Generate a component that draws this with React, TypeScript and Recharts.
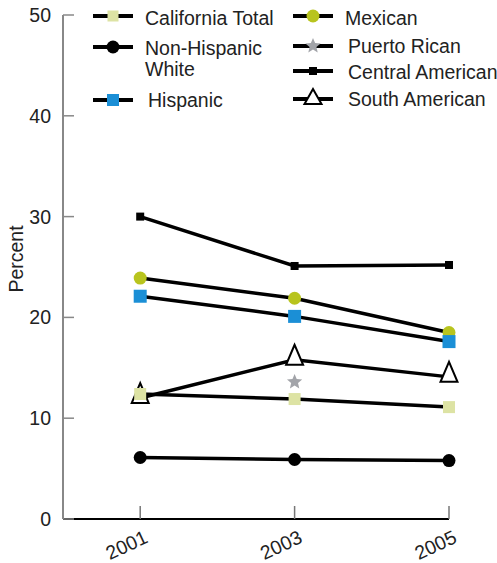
import React from "react";
import { LineChart, Line, XAxis, YAxis, Legend } from "recharts";

const years = [2001, 2003, 2005];
const californiaTotal = [12.4, 11.9, 11.1];
const nonHispanicWhite = [6.1, 5.9, 5.8];
const hispanic = [22.1, 20.1, 17.6];
const mexican = [23.9, 21.9, 18.5];
const puertoRican = [null, 13.6, null];
const centralAmerican = [30.0, 25.1, 25.2];
const southAmerican = [12.0, 15.8, 14.1];
const yTicks = [0, 10, 20, 30, 40, 50];

const FONT = '"Liberation Sans", Arial, Helvetica, sans-serif';
const TEXT = "#222";
const FS = 19.5;

const data = years.map((year, i) => ({
  year,
  californiaTotal: californiaTotal[i],
  nonHispanicWhite: nonHispanicWhite[i],
  hispanic: hispanic[i],
  mexican: mexican[i],
  puertoRican: puertoRican[i],
  centralAmerican: centralAmerican[i],
  southAmerican: southAmerican[i],
}));

type Kind = "paleSquare" | "blackCircle" | "blueSquare" | "greenCircle" | "star" | "smallSquare" | "triangle";

function starPath(cx: number, cy: number, ro: number, ri: number) {
  const pts: string[] = [];
  for (let i = 0; i < 10; i++) {
    const r = i % 2 === 0 ? ro : ri;
    const a = -Math.PI / 2 + (i * Math.PI) / 5;
    pts.push(`${(cx + r * Math.cos(a)).toFixed(2)},${(cy + r * Math.sin(a)).toFixed(2)}`);
  }
  return pts.join(" ");
}

function marker(kind: Kind, cx: number, cy: number, legend = false) {
  switch (kind) {
    case "paleSquare": {
      const s = legend ? 11 : 12;
      return <rect x={cx - s / 2} y={cy - s / 2} width={s} height={s} fill="#dde3a4" />;
    }
    case "blackCircle":
      return <circle cx={cx} cy={cy} r={6.5} fill="#000" />;
    case "blueSquare": {
      const s = legend ? 12 : 13;
      return <rect x={cx - s / 2} y={cy - s / 2} width={s} height={s} fill="#1b8fd6" />;
    }
    case "greenCircle":
      return <circle cx={cx} cy={cy} r={6.5} fill="#b8c41e" />;
    case "star":
      return <polygon points={starPath(cx, cy, 8, 3.6)} fill="#a2a4a9" />;
    case "smallSquare":
      return <rect x={cx - 4} y={cy - 4} width={8} height={8} fill="#000" />;
    case "triangle": {
      const top = legend ? 10 : 15;
      return (
        <polygon
          points={`${cx},${cy - top} ${cx - 8.5},${cy + 5} ${cx + 8.5},${cy + 5}`}
          fill="#fff"
          stroke="#000"
          strokeWidth={2}
          strokeLinejoin="miter"
        />
      );
    }
  }
}

// draw order matters: later series sit on top
const series: { key: string; kind: Kind }[] = [
  { key: "southAmerican", kind: "triangle" },
  { key: "centralAmerican", kind: "smallSquare" },
  { key: "nonHispanicWhite", kind: "blackCircle" },
  { key: "mexican", kind: "greenCircle" },
  { key: "hispanic", kind: "blueSquare" },
  { key: "puertoRican", kind: "star" },
  { key: "californiaTotal", kind: "paleSquare" },
];

const legendItems: { kind: Kind; lines: string[]; lx: number; ly: number; tx: number; ty: number }[] = [
  { kind: "paleSquare", lines: ["California Total"], lx: 113, ly: 16, tx: 145, ty: 25 },
  { kind: "blackCircle", lines: ["Non-Hispanic", "White"], lx: 113, ly: 47, tx: 145, ty: 55 },
  { kind: "blueSquare", lines: ["Hispanic"], lx: 113, ly: 100, tx: 148, ty: 107 },
  { kind: "greenCircle", lines: ["Mexican"], lx: 313, ly: 16, tx: 345, ty: 25 },
  { kind: "star", lines: ["Puerto Rican"], lx: 313, ly: 46, tx: 348, ty: 53 },
  { kind: "smallSquare", lines: ["Central American"], lx: 313, ly: 71, tx: 348, ty: 79 },
  { kind: "triangle", lines: ["South American"], lx: 313, ly: 99, tx: 348, ty: 106 },
];

function LegendContent() {
  return (
    <svg width={497} height={115} style={{ display: "block" }}>
      {legendItems.map((it) => (
        <g key={it.lines[0]}>
          <line x1={it.lx - 20} x2={it.lx + 20} y1={it.ly} y2={it.ly} stroke="#000" strokeWidth={4} />
          {marker(it.kind, it.lx, it.ly, true)}
          <text x={it.tx} y={it.ty} fontFamily={FONT} fontSize={FS} fill={TEXT}>
            {it.lines.map((l, i) => (
              <tspan key={l} x={it.tx} dy={i === 0 ? 0 : 21}>
                {l}
              </tspan>
            ))}
          </text>
        </g>
      ))}
    </svg>
  );
}

function XTick({ x, y, payload }: any) {
  return (
    <g>
      <line x1={x} x2={x} y1={y} y2={y - 13} stroke="#777" strokeWidth={1.5} />
      <text
        x={x + 9}
        y={y + 23}
        textAnchor="end"
        transform={`rotate(-25 ${x + 9} ${y + 23})`}
        fontFamily={FONT}
        fontSize={FS}
        fill={TEXT}
      >
        {payload.value}
      </text>
    </g>
  );
}

function YTick({ x, y, payload }: any) {
  return (
    <g>
      <line x1={x} x2={x + 11} y1={y} y2={y} stroke="#888" strokeWidth={1.5} />
      <text x={x - 12} y={y + 7} textAnchor="end" fontFamily={FONT} fontSize={FS} fill={TEXT}>
        {payload.value}
      </text>
    </g>
  );
}

function YLabel({ viewBox }: any) {
  const cx = 23;
  const cy = viewBox.y + viewBox.height / 2 - 8;
  return (
    <text x={cx} y={cy} textAnchor="middle" transform={`rotate(-90 ${cx} ${cy})`} fontFamily={FONT} fontSize={FS} fill={TEXT}>
      Percent
    </text>
  );
}

export default function App() {
  return (
    <div style={{ position: "absolute", left: 0, top: 0, width: 497, height: 563, background: "#fff" }}>
      <LineChart width={497} height={563} data={data} margin={{ top: 15, right: 48, bottom: 14, left: 8 }}>
        <XAxis
          dataKey="year"
          type="number"
          domain={[2000, 2005]}
          ticks={years}
          height={30}
          tickSize={0}
          tickMargin={0}
          tickLine={false}
          axisLine={{ stroke: "#000", strokeWidth: 2 }}
          tick={<XTick />}
        />
        <YAxis
          domain={[0, 50]}
          ticks={yTicks}
          width={55}
          tickSize={0}
          tickMargin={0}
          tickLine={false}
          axisLine={{ stroke: "#888", strokeWidth: 2 }}
          tick={<YTick />}
          label={{ value: "Percent", content: <YLabel /> }}
        />
        <Legend
          verticalAlign="middle"
          align="center"
          layout="horizontal"
          wrapperStyle={{ top: 0, left: 0, width: 497, height: 115 }}
          content={<LegendContent />}
        />
        {series.map((s) => (
          <Line
            key={s.key}
            dataKey={s.key}
            stroke="#000"
            strokeWidth={3.5}
            isAnimationActive={false}
            legendType="none"
            dot={(p: any) => (
              <g key={`${s.key}-${p.index}`}>
                {p.value == null || p.cy == null ? null : marker(s.kind, p.cx, p.cy)}
              </g>
            )}
            activeDot={false}
          />
        ))}
      </LineChart>
    </div>
  );
}
